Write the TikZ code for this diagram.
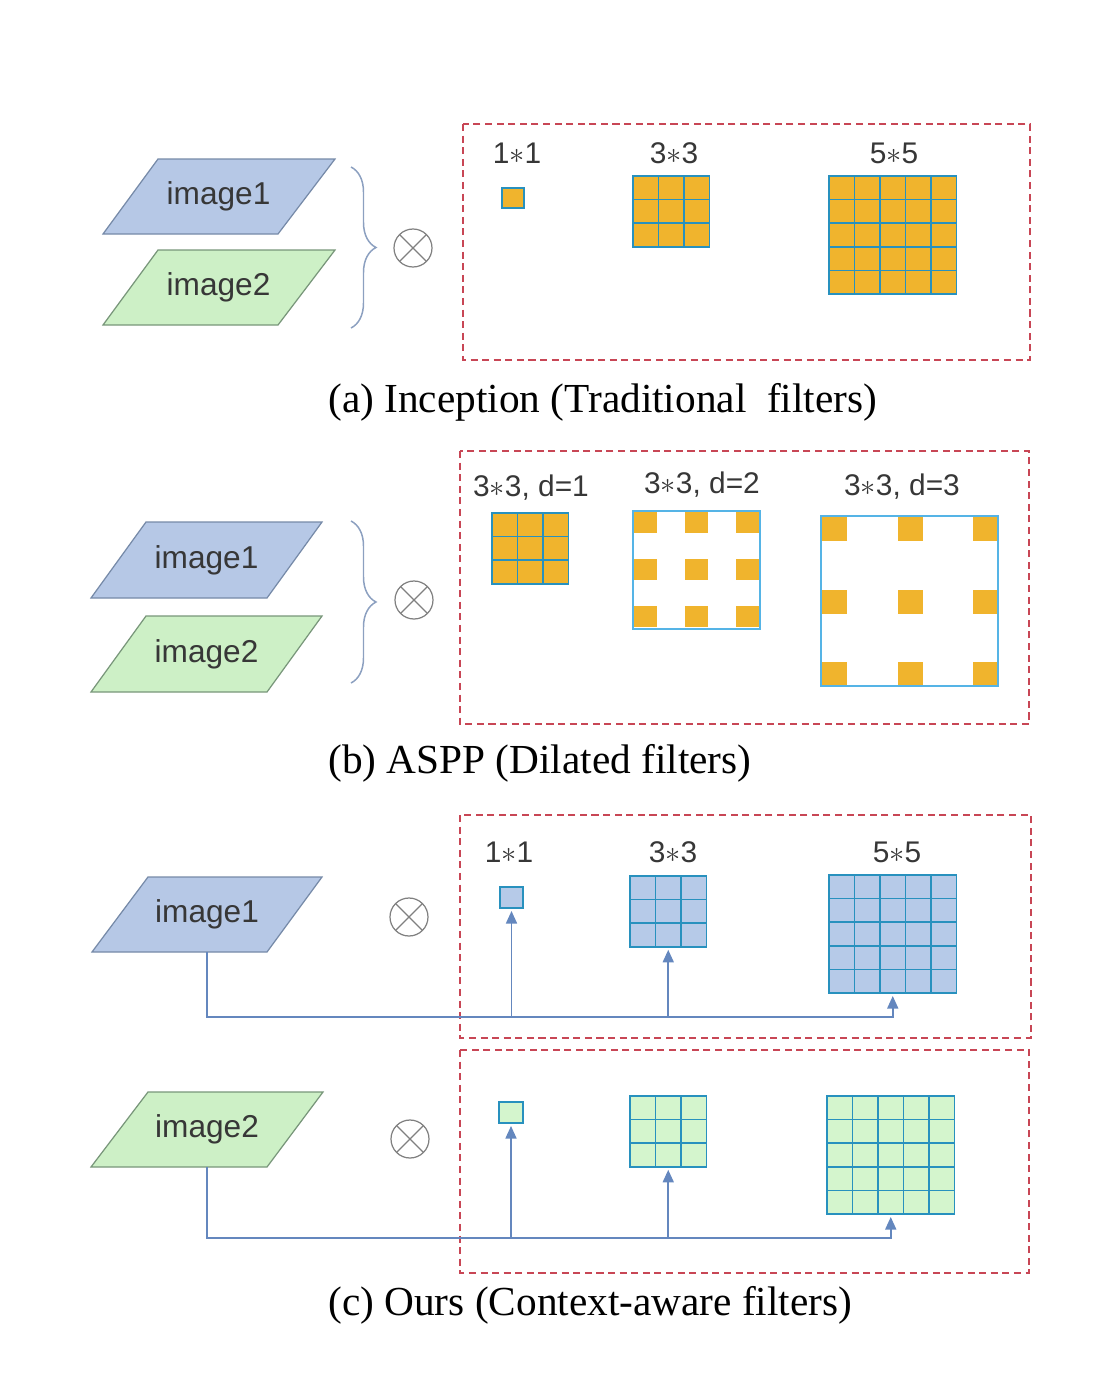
\documentclass[tikz,border=0pt]{standalone}
\usepackage{fontspec}
\setmainfont{Liberation Serif}
\setsansfont{Liberation Sans}
\usepackage{tikz}
\usetikzlibrary{arrows.meta}
\usetikzlibrary{decorations.pathreplacing}
\definecolor{boxred}{RGB}{200,70,85}
\definecolor{kgold}{RGB}{240,180,45}
\definecolor{gridblue}{RGB}{40,145,190}
\definecolor{dilblue}{RGB}{85,180,230}
\definecolor{imgblue}{RGB}{182,200,230}
\definecolor{imgblueline}{RGB}{118,138,168}
\definecolor{imggreen}{RGB}{205,240,198}
\definecolor{imggreenline}{RGB}{120,150,122}
\definecolor{kblue}{RGB}{182,202,232}
\definecolor{kgreen}{RGB}{212,245,205}
\definecolor{linkblue}{RGB}{100,135,190}
\definecolor{bracegray}{RGB}{140,160,192}
\definecolor{txtgray}{RGB}{55,55,55}
\newcommand{\pxu}{0.02cm}
\tikzset{fbox/.style = {draw=boxred, line width=0.75pt, dash pattern=on 4pt off 2.6pt}}
\tikzset{kbox/.style = {draw=gridblue, line width=0.85pt, inner sep=0pt, outer sep=0pt, anchor=north west}}
\tikzset{kline/.style = {draw=gridblue, line width=0.85pt}}
\tikzset{lbl/.style = {font=\sffamily\fontsize{17}{20}\selectfont, text=txtgray, inner sep=0pt}}
\tikzset{captxt/.style = {font=\fontsize{23.5}{26}\selectfont, anchor=west, inner sep=0pt}}
\tikzset{imgtxt/.style = {font=\sffamily\fontsize{18}{20}\selectfont, text=txtgray,
                          minimum height=75*\pxu, inner sep=0pt, outer sep=0pt}}
\tikzset{imgA/.style = {fill=imgblue, draw=imgblueline, line width=0.7pt}}
\tikzset{imgB/.style = {fill=imggreen, draw=imggreenline, line width=0.7pt}}
\tikzset{otimes/.style = {circle, draw=gray, line width=0.7pt, minimum size=38*\pxu, inner sep=0pt,
                          path picture={\draw[gray, line width=0.7pt]
                            (path picture bounding box.north west) -- (path picture bounding box.south east)
                            (path picture bounding box.north east) -- (path picture bounding box.south west);}}}
\tikzset{brc/.style = {draw=bracegray, line width=0.85pt, decorate, decoration={brace, amplitude=0.5cm}}}
\tikzset{link/.style = {draw=linkblue, line width=0.9pt, -{Triangle[width=0.22cm, length=0.25cm]}, shorten >=0.06cm}}
\newcommand{\kgrid}[5]{%
  \node[kbox, fill=#5, minimum width=#4*25.5*\pxu, minimum height=#4*23.6*\pxu] (#1) at (#2,#3) {};
  \foreach \i in {1,...,#4}
    \draw[kline] ({#2+\i*25.5},#3) -- ++(0,{#4*23.6}) (#2,{#3+\i*23.6}) -- ++({#4*25.5},0);
}
\begin{document}
\begin{tikzpicture}[x=0.02cm, y=-0.02cm]
	\useasboundingbox (0,0) rectangle (1094,1380);
	% (a)
	\draw[imgA] (158,159) -- (335,159) -- (278,234) -- (103,234) -- cycle;
	\node[imgtxt] (ia1) at (218.5,196.5) {image1};
	\draw[imgB] (158,250) -- (335,250) -- (278,325) -- (103,325) -- cycle;
	\node[imgtxt] (ia2) at (218.5,287.5) {image2};
	\draw[brc] (351,167) -- (351,328);
	\node[otimes] (oa) at (413,248) {};
	\draw[fbox] (463,124) rectangle (1030,360);
	\node[lbl] (la1) at (517,153) {1$\ast$1};
	\node[lbl] (la3) at (674,153) {3$\ast$3};
	\node[lbl] (la5) at (894,153) {5$\ast$5};
	\node[kbox, fill=kgold, minimum width=22*\pxu, minimum height=20*\pxu] (ak1) at (502,188) {};
	\kgrid{ak3}{633}{176}{3}{kgold}
	\kgrid{ak5}{829}{176}{5}{kgold}
	\node[captxt] (capa) at (328,402) {(a) Inception (Traditional~~filters)};
	% (b)
	\draw[imgA] (146,522) -- (322,522) -- (267,598) -- (91,598) -- cycle;
	\node[imgtxt] (ib1) at (206.5,560) {image1};
	\draw[imgB] (146,616) -- (322,616) -- (267,692) -- (91,692) -- cycle;
	\node[imgtxt] (ib2) at (206.5,654) {image2};
	\draw[brc] (351,521) -- (351,683);
	\node[otimes] (ob) at (414,600) {};
	\draw[fbox] (460,451) rectangle (1029,724);
	\node[lbl] (lb1) at (531,488) {3$\ast$3, d=1};
	\node[lbl] (lb2) at (702,485) {3$\ast$3, d=2};
	\node[lbl] (lb3) at (902,487) {3$\ast$3, d=3};
	\kgrid{bk1}{492}{513}{3}{kgold}
	\foreach \i in {0,1,2}
		\foreach \j in {0,1,2}
			\fill[kgold] ({634+\i*51},{512+\j*47}) rectangle ++(23,21);
	\node[kbox, draw=dilblue, line width=0.9pt, minimum width=127*\pxu, minimum height=118*\pxu] (bk2) at (633,511) {};
	\foreach \i in {0,1,2}
		\foreach \j in {0,1,2}
			\fill[kgold] ({822+\i*75.5},{517+\j*72.5}) rectangle ++(25,24);
	\node[kbox, draw=dilblue, line width=0.9pt, minimum width=177*\pxu, minimum height=170*\pxu] (bk3) at (821,516) {};
	\node[captxt] (capb) at (328,763) {(b) ASPP (Dilated filters)};
	% (c)
	\draw[fbox] (460,815) rectangle (1031,1038);
	\draw[fbox] (460,1050) rectangle (1029,1273);
	\draw[imgA] (148,877) -- (322,877) -- (267,952) -- (92,952) -- cycle;
	\node[imgtxt] (ic1) at (207,914.5) {image1};
	\draw[imgB] (148,1092) -- (323,1092) -- (267,1167) -- (91,1167) -- cycle;
	\node[imgtxt] (ic2) at (207,1129.5) {image2};
	\node[otimes] (oc1) at (409,917) {};
	\node[otimes] (oc2) at (410,1139) {};
	\node[lbl] (lc1) at (509,852) {1$\ast$1};
	\node[lbl] (lc3) at (673,852) {3$\ast$3};
	\node[lbl] (lc5) at (897,852) {5$\ast$5};
	\node[kbox, fill=kblue, minimum width=23*\pxu, minimum height=21*\pxu] (ck1) at (500,887) {};
	\kgrid{ck3}{630}{876}{3}{kblue}
	\kgrid{ck5}{829}{875}{5}{kblue}
	\node[kbox, fill=kgreen, minimum width=24*\pxu, minimum height=21*\pxu] (dk1) at (499,1102) {};
	\kgrid{dk3}{630}{1096}{3}{kgreen}
	\kgrid{dk5}{827}{1096}{5}{kgreen}
	\coordinate (busc) at (0,1017);
	\coordinate (busd) at (0,1238);
	\draw[link] (ic1.south) |- (ck1.south |- busc) -- (ck1.south);
	\draw[link] (ic1.south) |- (ck3.south |- busc) -- (ck3.south);
	\draw[link] (ic1.south) |- (ck5.south |- busc) -- (ck5.south);
	\draw[link] (ic2.south) |- (dk1.south |- busd) -- (dk1.south);
	\draw[link] (ic2.south) |- (dk3.south |- busd) -- (dk3.south);
	\draw[link] (ic2.south) |- (dk5.south |- busd) -- (dk5.south);
	\node[captxt] (capc) at (328,1305) {(c) Ours (Context-aware filters)};
\end{tikzpicture}
\end{document}
